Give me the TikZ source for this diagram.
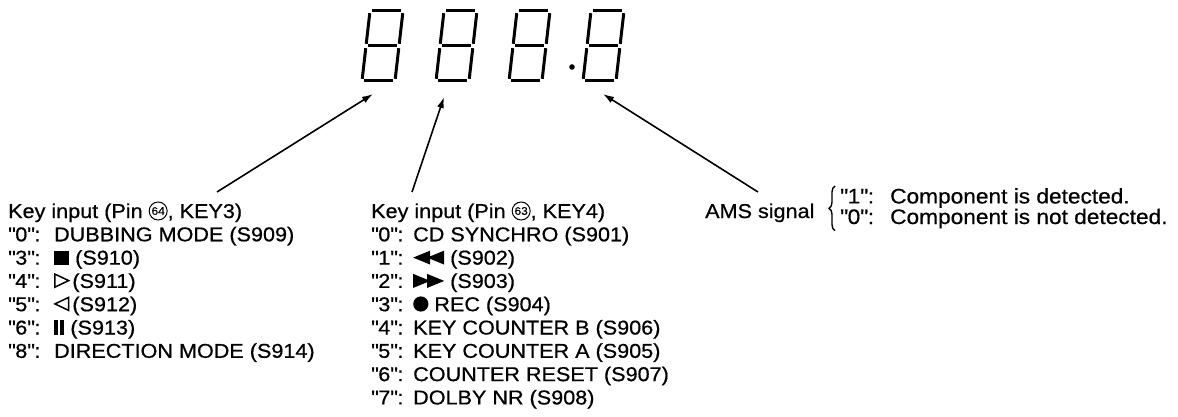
\documentclass[tikz,border=0pt]{standalone}
\usepackage{fontspec}
\setmainfont{Liberation Sans}[FakeStretch=1.08,FakeBold=0.6]
\usepackage{tikz}
\usetikzlibrary{positioning,arrows.meta,calc,decorations.pathreplacing}
\tikzset{
  seg/.style={line width=3pt,shorten <=2.2pt,shorten >=2.2pt},
  edge/.style={-{Latex[length=11pt,width=7pt]},line width=1.6pt},
  keylist/.style={anchor=base west,align=left,inner sep=0pt,
                  font=\fontsize{20}{23.3}\selectfont},
  amslist/.style={anchor=base west,align=left,inner sep=0pt,
                  font=\fontsize{21}{18}\selectfont},
  bracestyle/.style={decorate,decoration={brace,amplitude=6pt},line width=1.4pt},
}
% key labels and key symbols
\newcommand{\kno}[2][46pt]{\makebox[#1][l]{\textquotedbl#2\textquotedbl:}}
\newcommand{\pinno}[1]{\tikz[x=1pt,y=1pt,baseline=-7pt]{\draw[line width=1pt] (0,0) circle (9);
  \node[anchor=center,inner sep=0pt,font=\fontsize{11}{11}\selectfont] (pinlbl) at (0,0) {#1};}}
\newcommand{\stopsym}{\tikz[x=1pt,y=1pt,baseline=0pt]\fill (0,0) rectangle (15,14);}
\newcommand{\playsym}{\tikz[x=1pt,y=1pt,baseline=0pt]\draw[line width=1.5pt] (0.8,0.8) -- (14.5,7.3) -- (0.8,13.8) -- cycle;}
\newcommand{\backsym}{\tikz[x=1pt,y=1pt,baseline=0pt]\draw[line width=1.5pt] (14.5,0.8) -- (0.8,7.3) -- (14.5,13.8) -- cycle;}
\newcommand{\pausesym}{\tikz[x=1pt,y=1pt,baseline=0pt]{\fill (0,0) rectangle (4,14.5); \fill (6.2,0) rectangle (10.2,14.5);}}
\newcommand{\rewsym}{\tikz[x=1pt,y=1pt,baseline=0pt]\fill (0,7) -- (17,0) -- (17,14) -- cycle (14,7) -- (31,0) -- (31,14) -- cycle;}
\newcommand{\ffsym}{\tikz[x=1pt,y=1pt,baseline=0pt]\fill (0,0) -- (17,7) -- (0,14) -- cycle (14,0) -- (31,7) -- (14,14) -- cycle;}
\newcommand{\recsym}{\tikz[x=1pt,y=1pt,baseline=0pt]\fill (7.5,7.2) circle (7.6);}
% one seven-segment digit, lower left corner at x = #1
\newcommand{\sevenseg}[1]{%
  \begin{scope}[shift={(#1,0)}]
    \draw[seg] (8,11) -- (41,11);
    \draw[seg] (8,11) -- (4,46);
    \draw[seg] (41,11) -- (37,46);
    \draw[seg] (4,46) -- (37,46);
    \draw[seg] (4,46) -- (0,81);
    \draw[seg] (37,46) -- (33,81);
    \draw[seg] (0,81) -- (33,81);
  \end{scope}}

\begin{document}
\begin{tikzpicture}[x=1pt,y=-1pt]
\useasboundingbox (0,0) rectangle (1178,417);

% display
\sevenseg{362} \sevenseg{436} \sevenseg{509} \sevenseg{583}
\fill (572,67) circle (2.8);
\coordinate (digA) at (373,94);
\coordinate (digB) at (444,97);
\coordinate (digD) at (603,94);

% key input lists (base = last line)
\node[keylist] (blkA) at (8,357.8) {Key input (Pin \pinno{64}, KEY3)\\
  \kno{0}DUBBING MODE (S909)\\
  \kno{3}\stopsym\ (S910)\\
  \kno{4}\playsym\hspace{3pt}(S911)\\
  \kno{5}\backsym\hspace{3pt}(S912)\\
  \kno{6}\pausesym\ (S913)\\
  \kno{8}DIRECTION MODE (S914)};
\node[keylist] (blkB) at (371,404.4) {Key input (Pin \pinno{63}, KEY4)\\
  \kno[42pt]{0}CD SYNCHRO (S901)\\
  \kno[42pt]{1}\rewsym\ (S902)\\
  \kno[42pt]{2}\ffsym\ (S903)\\
  \kno[42pt]{3}\recsym\ REC (S904)\\
  \kno[42pt]{4}KEY COUNTER B (S906)\\
  \kno[42pt]{5}KEY COUNTER A (S905)\\
  \kno[42pt]{6}COUNTER RESET (S907)\\
  \kno[42pt]{7}DOLBY NR (S908)};

% AMS
\node[keylist] (ams) at (705,218) {AMS signal};
\node[amslist] (amsv) at (840,224) {\kno[50pt]{1}Component is detected.\\
  \kno[50pt]{0}Component is not detected.};
\draw[bracestyle] ([xshift=-5pt,yshift=-2pt]amsv.south west) -- ([xshift=-5pt,yshift=2pt]amsv.north west);

\draw[edge] ([shift={(209,-165.8)}]blkA.base west) -- (digA);
\draw[edge] ([shift={(41,-212.4)}]blkB.base west) -- (digB);
\draw[edge] ([shift={(53,-26)}]ams.base west) -- (digD);
\end{tikzpicture}
\end{document}
